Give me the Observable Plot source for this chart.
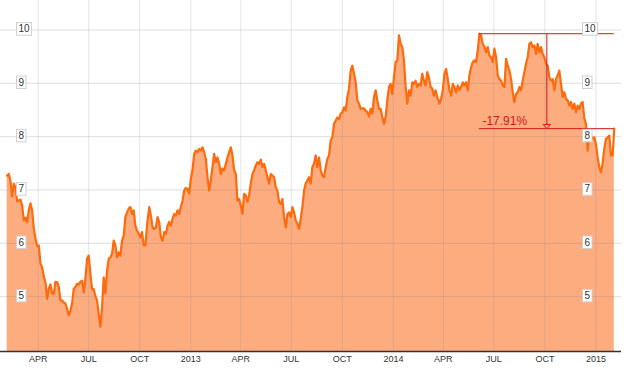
<!DOCTYPE html>
<html>
<head>
<meta charset="utf-8">
<script src="https://cdn.jsdelivr.net/npm/d3@7"></script>
<script src="https://cdn.jsdelivr.net/npm/@observablehq/plot@0.6"></script>
<style>
  html, body { margin: 0; padding: 0; background: #fff; }
  #chart svg { display: block; }
</style>
</head>
<body>
<div id="chart"></div>
<script>
// ---- data (close prices, ~3-day sampling) ----
const px2012 = [
["2012-02-05",7.27],["2012-02-08",7.30],["2012-02-11",7.16],["2012-02-14",6.88],["2012-02-17",7.12],["2012-02-20",7.05],["2012-02-23",6.79],["2012-02-26",6.80],["2012-02-29",6.82],
["2012-03-03",6.71],["2012-03-06",6.43],["2012-03-09",6.48],["2012-03-12",6.40],["2012-03-15",6.62],["2012-03-18",6.75],["2012-03-21",6.62],["2012-03-24",6.28],["2012-03-27",6.09],["2012-03-30",5.95],
["2012-04-02",5.96],["2012-04-05",5.62],["2012-04-08",5.55],["2012-04-11",5.38],["2012-04-14",5.27],["2012-04-17",4.96],["2012-04-20",5.15],["2012-04-23",5.23],["2012-04-26",5.06],["2012-04-29",5.05],
["2012-05-02",5.28],["2012-05-05",5.27],["2012-05-08",5.19],["2012-05-11",4.93],["2012-05-14",4.93],["2012-05-17",4.89],["2012-05-20",4.87],["2012-05-23",4.77],["2012-05-26",4.65],["2012-05-29",4.74],
["2012-06-01",4.87],["2012-06-04",5.15],["2012-06-07",5.18],["2012-06-10",5.24],["2012-06-13",5.23],["2012-06-16",5.28],["2012-06-19",5.30],["2012-06-22",5.08],["2012-06-25",5.34],["2012-06-28",5.71],
["2012-07-01",5.77],["2012-07-04",5.43],["2012-07-07",5.14],["2012-07-10",5.14],["2012-07-13",5.01],["2012-07-16",4.93],["2012-07-19",4.67],["2012-07-22",4.44],["2012-07-25",4.80],["2012-07-28",5.36],["2012-07-31",5.06],
["2012-08-03",5.49],["2012-08-06",5.71],["2012-08-09",5.74],["2012-08-12",5.80],["2012-08-15",6.05],["2012-08-18",5.96],["2012-08-21",5.74],["2012-08-24",5.83],["2012-08-27",5.77],["2012-08-30",6.05],
["2012-09-02",6.14],["2012-09-05",6.49],["2012-09-08",6.58],["2012-09-11",6.65],["2012-09-14",6.68],["2012-09-17",6.55],["2012-09-20",6.62],["2012-09-23",6.33],["2012-09-26",6.24],["2012-09-29",6.18],
["2012-10-02",6.11],["2012-10-05",6.21],["2012-10-08",5.96],["2012-10-11",5.96],["2012-10-15",6.43],["2012-10-18",6.68],["2012-10-21",6.52],["2012-10-24",6.30],["2012-10-27",6.27],["2012-10-30",6.30],
["2012-11-02",6.49],["2012-11-05",6.40],["2012-11-08",6.11],["2012-11-11",6.05],["2012-11-14",6.21],["2012-11-17",6.18],["2012-11-20",6.33],["2012-11-23",6.40],["2012-11-26",6.33],["2012-11-29",6.46],
["2012-12-02",6.55],["2012-12-05",6.52],["2012-12-08",6.62],["2012-12-11",6.55],["2012-12-14",6.68],["2012-12-17",6.80],["2012-12-20",6.99],["2012-12-23",7.04],["2012-12-26",7.02],["2012-12-29",6.93]
];
const px2013 = [
["2013-01-01",7.21],["2013-01-04",7.37],["2013-01-07",7.68],["2013-01-10",7.74],["2013-01-13",7.71],["2013-01-16",7.77],["2013-01-19",7.74],["2013-01-22",7.80],["2013-01-25",7.71],["2013-01-28",7.58],["2013-01-31",7.24],
["2013-02-03",6.99],["2013-02-06",7.18],["2013-02-09",7.43],["2013-02-12",7.68],["2013-02-15",7.52],["2013-02-18",7.61],["2013-02-21",7.49],["2013-02-24",7.30],["2013-02-27",7.40],
["2013-03-02",7.37],["2013-03-05",7.49],["2013-03-08",7.61],["2013-03-11",7.71],["2013-03-14",7.80],["2013-03-17",7.65],["2013-03-20",7.37],["2013-03-23",7.30],["2013-03-26",6.80],["2013-03-29",6.83],
["2013-04-01",6.71],["2013-04-04",6.55],["2013-04-07",6.93],["2013-04-10",6.90],["2013-04-13",6.78],["2013-04-16",6.90],["2013-04-19",7.12],["2013-04-22",7.30],["2013-04-25",7.37],["2013-04-28",7.46],
["2013-05-01",7.52],["2013-05-04",7.49],["2013-05-07",7.57],["2013-05-10",7.43],["2013-05-13",7.49],["2013-05-16",7.37],["2013-05-19",7.24],["2013-05-22",7.12],["2013-05-25",7.30],["2013-05-28",7.27],["2013-05-31",7.24],
["2013-06-03",7.05],["2013-06-06",6.99],["2013-06-09",6.77],["2013-06-12",6.74],["2013-06-15",6.83],["2013-06-18",6.49],["2013-06-21",6.30],["2013-06-24",6.55],["2013-06-27",6.58],["2013-06-30",6.49],
["2013-07-03",6.68],["2013-07-06",6.58],["2013-07-09",6.43],["2013-07-12",6.37],["2013-07-15",6.27],["2013-07-18",6.46],["2013-07-21",6.68],["2013-07-24",6.99],["2013-07-27",7.12],["2013-07-30",7.18],
["2013-08-02",7.24],["2013-08-05",7.12],["2013-08-08",7.43],["2013-08-11",7.49],["2013-08-14",7.65],["2013-08-17",7.43],["2013-08-20",7.61],["2013-08-23",7.37],["2013-08-26",7.27],["2013-08-29",7.24],
["2013-09-01",7.43],["2013-09-04",7.58],["2013-09-07",7.65],["2013-09-10",7.93],["2013-09-13",7.99],["2013-09-16",8.24],["2013-09-19",8.30],["2013-09-22",8.36],["2013-09-25",8.33],["2013-09-28",8.43],
["2013-10-01",8.46],["2013-10-04",8.55],["2013-10-07",8.49],["2013-10-10",8.74],["2013-10-13",8.90],["2013-10-16",9.24],["2013-10-19",9.33],["2013-10-22",9.18],["2013-10-25",9.02],["2013-10-28",8.68],["2013-10-31",8.62],
["2013-11-03",8.52],["2013-11-06",8.53],["2013-11-09",8.53],["2013-11-12",8.49],["2013-11-15",8.46],["2013-11-18",8.38],["2013-11-21",8.52],["2013-11-24",8.43],["2013-11-27",8.74],["2013-11-30",8.87],
["2013-12-03",8.68],["2013-12-06",8.52],["2013-12-09",8.52],["2013-12-12",8.37],["2013-12-15",8.24],["2013-12-18",8.37],["2013-12-21",8.68],["2013-12-24",8.93],["2013-12-27",8.99],["2013-12-30",8.80]
];
const px2014 = [
["2014-01-02",9.11],["2014-01-05",9.40],["2014-01-08",9.43],["2014-01-11",9.90],["2014-01-14",9.74],["2014-01-17",9.68],["2014-01-20",9.43],["2014-01-23",8.94],["2014-01-26",8.62],["2014-01-29",8.87],
["2014-02-01",8.77],["2014-02-04",9.02],["2014-02-07",8.99],["2014-02-10",9.05],["2014-02-13",8.93],["2014-02-16",8.99],["2014-02-19",8.96],["2014-02-22",9.18],["2014-02-25",9.05],["2014-02-28",8.96],
["2014-03-03",9.21],["2014-03-06",9.11],["2014-03-09",8.93],["2014-03-12",8.90],["2014-03-15",8.77],["2014-03-18",8.87],["2014-03-21",8.74],["2014-03-25",8.62],["2014-03-28",8.71],["2014-03-31",8.87],
["2014-04-03",9.18],["2014-04-06",9.27],["2014-04-09",9.08],["2014-04-12",8.87],["2014-04-15",8.77],["2014-04-18",8.99],["2014-04-21",8.93],["2014-04-24",8.83],["2014-04-27",8.96],["2014-04-30",8.87],
["2014-05-03",8.93],["2014-05-06",9.02],["2014-05-09",8.96],["2014-05-12",9.02],["2014-05-15",8.87],["2014-05-18",9.15],["2014-05-21",9.30],["2014-05-24",9.40],["2014-05-27",9.43],["2014-05-30",9.40],
["2014-06-02",9.62],["2014-06-05",9.93],["2014-06-08",9.90],["2014-06-11",9.74],["2014-06-14",9.69],["2014-06-17",9.58],["2014-06-20",9.68],["2014-06-23",9.52],["2014-06-26",9.49],["2014-06-29",9.40],
["2014-07-02",9.65],["2014-07-05",9.49],["2014-07-08",9.15],["2014-07-11",9.08],["2014-07-14",9.05],["2014-07-17",8.96],["2014-07-20",8.93],["2014-07-23",9.46],["2014-07-26",9.33],["2014-07-29",9.24],
["2014-08-01",9.08],["2014-08-04",8.83],["2014-08-07",8.65],["2014-08-10",8.80],["2014-08-13",8.83],["2014-08-16",8.93],["2014-08-19",8.87],["2014-08-22",9.05],["2014-08-25",9.21],["2014-08-28",9.37],["2014-08-31",9.49],
["2014-09-03",9.74],["2014-09-06",9.77],["2014-09-09",9.68],["2014-09-12",9.71],["2014-09-15",9.55],["2014-09-18",9.74],["2014-09-21",9.58],["2014-09-24",9.68],["2014-09-27",9.55],["2014-09-30",9.49],
["2014-10-03",9.37],["2014-10-06",9.33],["2014-10-09",9.11],["2014-10-12",9.05],["2014-10-15",9.08],["2014-10-18",8.87],["2014-10-21",9.08],["2014-10-24",9.15],["2014-10-27",9.24],["2014-10-30",8.99],
["2014-11-02",8.74],["2014-11-05",8.83],["2014-11-08",8.71],["2014-11-11",8.68],["2014-11-14",8.58],["2014-11-17",8.65],["2014-11-20",8.52],["2014-11-23",8.62],["2014-11-26",8.46],["2014-11-29",8.58],
["2014-12-02",8.52],["2014-12-05",8.62],["2014-12-08",8.65],["2014-12-11",8.34],["2014-12-14",8.24],["2014-12-17",7.74],["2014-12-20",8.05],["2014-12-23",8.02],["2014-12-26",7.96],["2014-12-29",7.99]
];
const px2015 = [
["2015-01-01",7.86],["2015-01-04",7.61],["2015-01-07",7.43],["2015-01-10",7.33],["2015-01-13",7.50],["2015-01-16",7.77],["2015-01-19",7.96],["2015-01-22",7.99],["2015-01-25",8.02],["2015-01-28",7.65],["2015-01-31",7.65],
["2015-02-03",8.15]
];

const tickDates  = ["2012-04-01","2012-07-01","2012-10-01","2013-01-01","2013-04-01","2013-07-01","2013-10-01","2014-01-01","2014-04-01","2014-07-01","2014-10-01","2015-01-01"];
const tickLabels = ["APR","JUL","OCT","2013","APR","JUL","OCT","2014","APR","JUL","OCT","2015"];
const yTicks = [5, 6, 7, 8, 9, 10];
const xDomain = ["2012-01-24", "2015-02-16"];
const yDomain = [3.972, 10.553];
const drawdownText = "-17.91%";

// ---- build ----
const data = [...px2012, ...px2013, ...px2014, ...px2015].map(([d, v]) => ({date: new Date(d), close: v}));
const ticks = tickDates.map(d => new Date(d));
const labelByTime = new Map(ticks.map((d, i) => [+d, tickLabels[i]]));

const peak = d3.greatest(data, d => d.close);
const last = data[data.length - 1];
const mid = new Date((+peak.date + +last.date) / 2);

const RED = "#d01818";
const FILL = "#fdac7f";
const LINE = "#ff6a0c";
const YLAB = "#333334"; // unique fill used to find the y-label groups

const arrowDown = {
  draw(ctx) {
    ctx.moveTo(-3.6, -4.2);
    ctx.lineTo(3.6, -4.2);
    ctx.lineTo(0, 0);
    ctx.closePath();
  }
};

const chart = Plot.plot({
  width: 632,
  height: 371,
  marginLeft: 0,
  marginRight: 11,
  marginTop: 0,
  marginBottom: 20,
  style: {fontFamily: "'Liberation Sans', Arial, sans-serif", background: "#fff", color: "#333"},
  x: {type: "utc", domain: xDomain.map(d => new Date(d)), axis: null},
  y: {domain: yDomain, axis: null},
  marks: [
    Plot.areaY(data, {x: "date", y: "close", fill: FILL, clip: true}),
    Plot.gridX(ticks, {stroke: "#888", strokeOpacity: 0.22, strokeWidth: 1}),
    Plot.gridY(yTicks, {stroke: "#888", strokeOpacity: 0.28, strokeWidth: 1}),
    Plot.lineY(data, {x: "date", y: "close", stroke: LINE, strokeWidth: 2.2, strokeLinejoin: "round", clip: true}),
    // drawdown annotation
    Plot.ruleY([peak.close], {x1: peak.date, x2: last.date, stroke: RED, strokeWidth: 1}),
    Plot.ruleY([last.close], {x1: peak.date, x2: last.date, stroke: RED, strokeWidth: 1}),
    Plot.ruleX([mid], {y1: peak.close, y2: last.close, stroke: RED, strokeWidth: 1}),
    Plot.dot([mid], {x: d => d, y: () => last.close, symbol: arrowDown, r: 3, stroke: RED, strokeWidth: 1, fill: FILL}),
    Plot.text([drawdownText], {x: () => peak.date, y: () => last.close, text: d => d, textAnchor: "start", lineAnchor: "bottom", dx: 3, dy: -4, fill: RED, fontSize: 12}),
    // y labels, left and right
    Plot.text(yTicks, {y: d => d, text: d => String(d), frameAnchor: "left", textAnchor: "start", dx: 18, dy: -1, fontSize: 10, fill: YLAB}),
    Plot.text(yTicks, {y: d => d, text: d => String(d), frameAnchor: "right", textAnchor: "start", dx: -37, dy: -1, fontSize: 10, fill: YLAB}),
    // bottom axis
    Plot.ruleY([yDomain[0]], {stroke: "#333", strokeWidth: 1.5}),
    Plot.axisX(ticks, {tickSize: 0, tickPadding: 4, fontSize: 9, fill: "#333", tickFormat: d => labelByTime.get(+d)})
  ]
});

document.getElementById("chart").appendChild(chart);

// white boxes behind the y labels (placed in each label's own coordinate frame)
const ylabTexts = [];
chart.querySelectorAll("g").forEach(g => {
  if ((g.getAttribute("fill") || "").toLowerCase() === YLAB) {
    g.querySelectorAll("text").forEach(t => ylabTexts.push(t));
  }
});
ylabTexts.forEach(t => {
  const b = t.getBBox();
  const r = document.createElementNS("http://www.w3.org/2000/svg", "rect");
  r.setAttribute("x", b.x - 2);
  r.setAttribute("y", b.y - 0.5);
  r.setAttribute("width", b.width + 3.5);
  r.setAttribute("height", b.height + 1.5);
  r.setAttribute("fill", "#fff");
  r.setAttribute("stroke", "#d0d0d0");
  r.setAttribute("stroke-width", "1");
  const tr = t.getAttribute("transform");
  if (tr) r.setAttribute("transform", tr);
  t.parentNode.insertBefore(r, t);
});
</script>
</body>
</html>
